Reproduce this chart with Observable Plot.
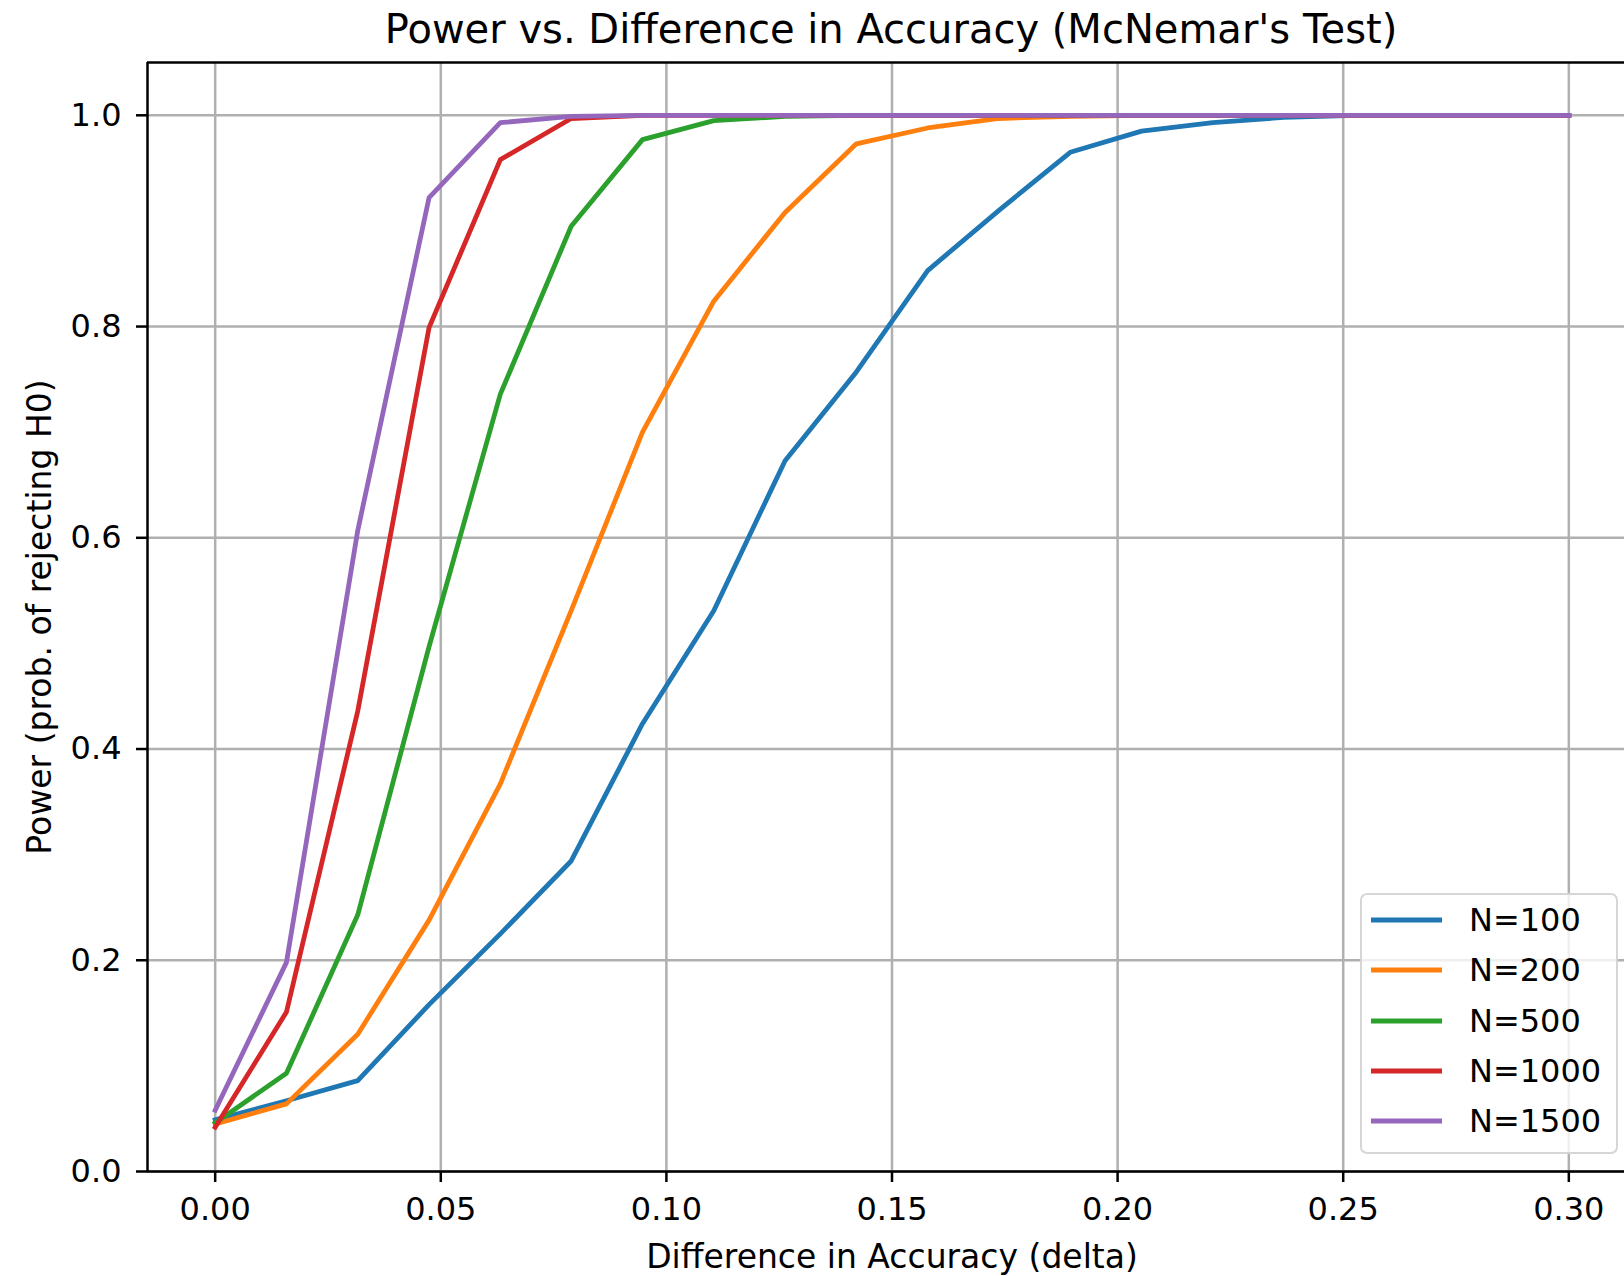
<!DOCTYPE html>
<html>
<head>
<meta charset="utf-8">
<script src="https://cdn.jsdelivr.net/npm/d3@7"></script>
<script src="https://cdn.jsdelivr.net/npm/@observablehq/plot@0.6"></script>
<style>
  html, body { margin: 0; padding: 0; background: #ffffff; }
  #wrap { position: relative; width: 1624px; height: 1276px; overflow: hidden; font-family: 'DejaVu Sans', sans-serif; }
  #title { position: absolute; left: 0; top: 0; width: 1782px; height: 60px; text-align: center; font-size: 40px; line-height: 59px; color: #000; white-space: nowrap; }
  #chart { position: absolute; left: 0; top: 60px; }
  #legend { position: absolute; left: 1360px; top: 893px; width: 258px; height: 261px; box-sizing: border-box;
            border: 2.5px solid rgba(204,204,204,0.8); border-radius: 7px; background: rgba(255,255,255,0.8); }
  .lrow { position: absolute; left: 0; height: 50px; width: 250px; }
  .lrow svg { position: absolute; left: 9px; top: 0; }
  .lrow span { position: absolute; left: 107px; top: 0; font-size: 32px; line-height: 50px; color: #000; white-space: nowrap; }
</style>
</head>
<body>
<div id="wrap">
  <div id="title"></div>
  <div id="chart"></div>
  <div id="legend"></div>
</div>
<script>
// ---- data ----
const titleText = "Power vs. Difference in Accuracy (McNemar's Test)";
const xLabel = "Difference in Accuracy (delta)";
const yLabel = "Power (prob. of rejecting H0)";

const deltas = [0.0000, 0.0158, 0.0316, 0.0474, 0.0632, 0.0789, 0.0947, 0.1105, 0.1263, 0.1421,
                0.1579, 0.1737, 0.1895, 0.2053, 0.2211, 0.2368, 0.2526, 0.2684, 0.2842, 0.3000];

const power100  = [0.049, 0.067, 0.086, 0.158, 0.225, 0.294, 0.424, 0.531, 0.673, 0.757,
                   0.853, 0.910, 0.965, 0.985, 0.993, 0.998, 1.000, 1.000, 1.000, 1.000];
const power200  = [0.045, 0.064, 0.130, 0.238, 0.367, 0.531, 0.700, 0.824, 0.908, 0.973,
                   0.988, 0.997, 0.999, 1.000, 1.000, 1.000, 1.000, 1.000, 1.000, 1.000];
const power500  = [0.046, 0.093, 0.243, 0.497, 0.736, 0.895, 0.977, 0.995, 0.999, 1.000,
                   1.000, 1.000, 1.000, 1.000, 1.000, 1.000, 1.000, 1.000, 1.000, 1.000];
const power1000 = [0.042, 0.151, 0.436, 0.799, 0.958, 0.997, 1.000, 1.000, 1.000, 1.000,
                   1.000, 1.000, 1.000, 1.000, 1.000, 1.000, 1.000, 1.000, 1.000, 1.000];
const power1500 = [0.058, 0.198, 0.607, 0.922, 0.993, 0.999, 1.000, 1.000, 1.000, 1.000,
                   1.000, 1.000, 1.000, 1.000, 1.000, 1.000, 1.000, 1.000, 1.000, 1.000];

const seriesNames  = ["N=100", "N=200", "N=500", "N=1000", "N=1500"];
const seriesValues = [power100, power200, power500, power1000, power1500];
const seriesColors = ["#1f77b4", "#ff7f0e", "#2ca02c", "#d62728", "#9467bd"];

const xTicks = [0.00, 0.05, 0.10, 0.15, 0.20, 0.25, 0.30];
const yTicks = [0.0, 0.2, 0.4, 0.6, 0.8, 1.0];
const xLim = [-0.015, 0.315];
const yLim = [0, 1.05];

// ---- tidy table ----
const data = [];
seriesNames.forEach((name, s) => {
  seriesValues[s].forEach((v, i) => data.push({delta: deltas[i], power: v, series: name}));
});

document.getElementById("title").textContent = titleText;

const spineW = 2.5;
const chart = Plot.plot({
  width: 1624,
  height: 1216,
  marginTop: 2,
  marginBottom: 105,
  marginLeft: 147,
  marginRight: -12,
  style: {fontFamily: "'DejaVu Sans', sans-serif", fontSize: "32px", color: "#000", background: "transparent"},
  x: {domain: xLim},
  y: {domain: yLim},
  color: {domain: seriesNames, range: seriesColors},
  marks: [
    Plot.gridX(xTicks, {stroke: "#b0b0b0", strokeOpacity: 1, strokeWidth: 2.5}),
    Plot.gridY(yTicks, {stroke: "#b0b0b0", strokeOpacity: 1, strokeWidth: 2.5}),
    Plot.line(data, {x: "delta", y: "power", z: "series", stroke: "series", strokeWidth: 4.8,
                     strokeLinejoin: "round", strokeLinecap: "square"}),
    Plot.ruleX([xLim[0]], {stroke: "#000", strokeWidth: spineW}),
    Plot.ruleY([yLim[0]], {stroke: "#000", strokeWidth: spineW}),
    Plot.ruleY([yLim[1]], {stroke: "#000", strokeWidth: spineW}),
    Plot.axisX(xTicks, {tickSize: 11, tickPadding: 15, strokeWidth: spineW, stroke: "#000",
                        tickFormat: d3.format(".2f"), label: null}),
    Plot.axisY(yTicks, {tickSize: 11, tickPadding: 15, strokeWidth: spineW, stroke: "#000",
                        tickFormat: d3.format(".1f"), label: null}),
    Plot.text([xLabel], {text: d => d, frameAnchor: "bottom", textAnchor: "middle", lineAnchor: "bottom",
                         dy: 96, fontSize: 33, fill: "#000"}),
    Plot.text([yLabel], {text: d => d, frameAnchor: "left", textAnchor: "middle", lineAnchor: "bottom",
                         rotate: -90, dx: -97, fontSize: 33, fill: "#000"})
  ]
});
document.getElementById("chart").appendChild(chart);

// ---- legend ----
const legend = d3.select("#legend");
seriesNames.forEach((name, k) => {
  const row = legend.append("div").attr("class", "lrow").style("top", (25.2 + k * 50.25 - 25) + "px");
  const svg = row.append("svg").attr("width", 72).attr("height", 50);
  svg.append("line").attr("x1", 0).attr("x2", 71).attr("y1", 25).attr("y2", 25)
     .attr("stroke", seriesColors[k]).attr("stroke-width", 4.8);
  row.append("span").text(name);
});
</script>
</body>
</html>
